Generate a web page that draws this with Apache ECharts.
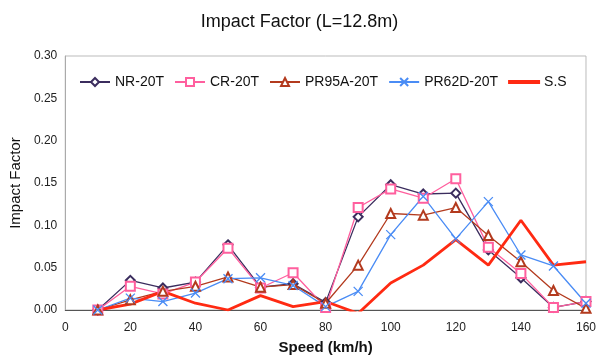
<!DOCTYPE html>
<html>
<head>
<meta charset="utf-8">
<script src="https://cdn.jsdelivr.net/npm/echarts@6/dist/echarts.min.js"></script>
<style>
  html, body { margin: 0; padding: 0; background: #fff; }
  #chart { width: 599px; height: 364px; }
</style>
</head>
<body>
<div id="chart"></div>
<script>
// speeds (km/h)
const speeds = [10, 20, 30, 40, 50, 60, 70, 80, 90, 100, 110, 120, 130, 140, 150, 160];
// impact factor per series
const nr20t   = [0.000, 0.035, 0.026, 0.033, 0.077, 0.027, 0.031, 0.009, 0.110, 0.148, 0.137, 0.138, 0.071, 0.038, 0.003, 0.010];
const cr20t   = [0.000, 0.028, 0.019, 0.033, 0.073, 0.026, 0.044, 0.003, 0.121, 0.143, 0.132, 0.155, 0.074, 0.043, 0.003, 0.010];
const pr95a   = [0.000, 0.012, 0.022, 0.028, 0.039, 0.027, 0.030, 0.008, 0.053, 0.114, 0.112, 0.121, 0.088, 0.057, 0.023, 0.002];
const pr62d   = [0.000, 0.014, 0.010, 0.020, 0.037, 0.038, 0.029, 0.004, 0.022, 0.089, 0.134, 0.084, 0.128, 0.065, 0.052, 0.008];
const ss      = [0.000, 0.007, 0.022, 0.008, 0.000, 0.017, 0.004, 0.010, -0.004, 0.032, 0.053, 0.083, 0.053, 0.106, 0.053, 0.057];
const xTicks = [0, 160, 20];
const yTicks = [0, 0.3, 0.05];

const pairs = (vals) => speeds.map((s, i) => [s, vals[i]]);
const cross = 'path://M0,0L10,10M10,0L0,10';

const chart = echarts.init(document.getElementById('chart'), null, { renderer: 'canvas' });

function lineSeries(name, vals, color, symbol, width) {
  return {
    name: name,
    type: 'line',
    data: pairs(vals),
    symbol: symbol,
    symbolSize: 9,
    showSymbol: symbol !== 'none',
    lineStyle: { color: color, width: width },
    itemStyle: { color: color, borderColor: color, borderWidth: 1.3 },
    emphasis: { disabled: true }
  };
}

chart.setOption({
  animation: false,
  backgroundColor: '#fff',
  title: {
    text: 'Impact Factor (L=12.8m)',
    left: 'center',
    top: 8,
    textStyle: { fontFamily: 'Liberation Sans', fontSize: 18, fontWeight: 'normal', color: '#111' }
  },
  legend: {
    top: 70,
    left: 74,
    itemGap: 10,
    itemWidth: 30,
    itemHeight: 10,
    textStyle: { fontFamily: 'Liberation Sans', fontSize: 14, color: '#111' },
    data: ['NR-20T', 'CR-20T', 'PR95A-20T', 'PR62D-20T',
      { name: 'S.S', icon: 'path://M0,0h30v2h-30z' }]
  },
  grid: {
    left: 64, right: 8, top: 56, bottom: 54,
    show: true, borderColor: '#bbb', borderWidth: 1
  },
  xAxis: {
    type: 'value',
    min: xTicks[0], max: xTicks[1], interval: xTicks[2],
    name: 'Speed (km/h)',
    nameLocation: 'middle',
    nameGap: 30,
    nameTextStyle: { fontFamily: 'Liberation Sans', fontSize: 15, fontWeight: 'bold', color: '#111' },
    axisLine: { lineStyle: { color: '#555' } },
    axisTick: { show: false },
    splitLine: { show: false },
    axisLabel: { fontFamily: 'Liberation Sans', fontSize: 12, color: '#222', margin: 12 }
  },
  yAxis: {
    type: 'value',
    min: yTicks[0], max: yTicks[1], interval: yTicks[2],
    name: 'Impact Factor',
    nameLocation: 'middle',
    nameGap: 40,
    nameTextStyle: { fontFamily: 'Liberation Sans', fontSize: 15, color: '#111' },
    axisLine: { show: true, lineStyle: { color: '#aaa' } },
    axisTick: { show: false },
    splitLine: { show: false },
    axisLabel: { fontFamily: 'Liberation Sans', fontSize: 12, color: '#222', formatter: v => v.toFixed(2) }
  },
  series: [
    lineSeries('NR-20T', nr20t, '#3b2d5e', 'emptyDiamond', 1.3),
    lineSeries('CR-20T', cr20t, '#ff5f9e', 'emptyRect', 1.3),
    lineSeries('PR95A-20T', pr95a, '#b33a1e', 'emptyTriangle', 1.3),
    lineSeries('PR62D-20T', pr62d, '#4a8cf5', cross, 1.3),
    lineSeries('S.S', ss, '#ff2a12', 'none', 2.8)
  ]
});
</script>
</body>
</html>
